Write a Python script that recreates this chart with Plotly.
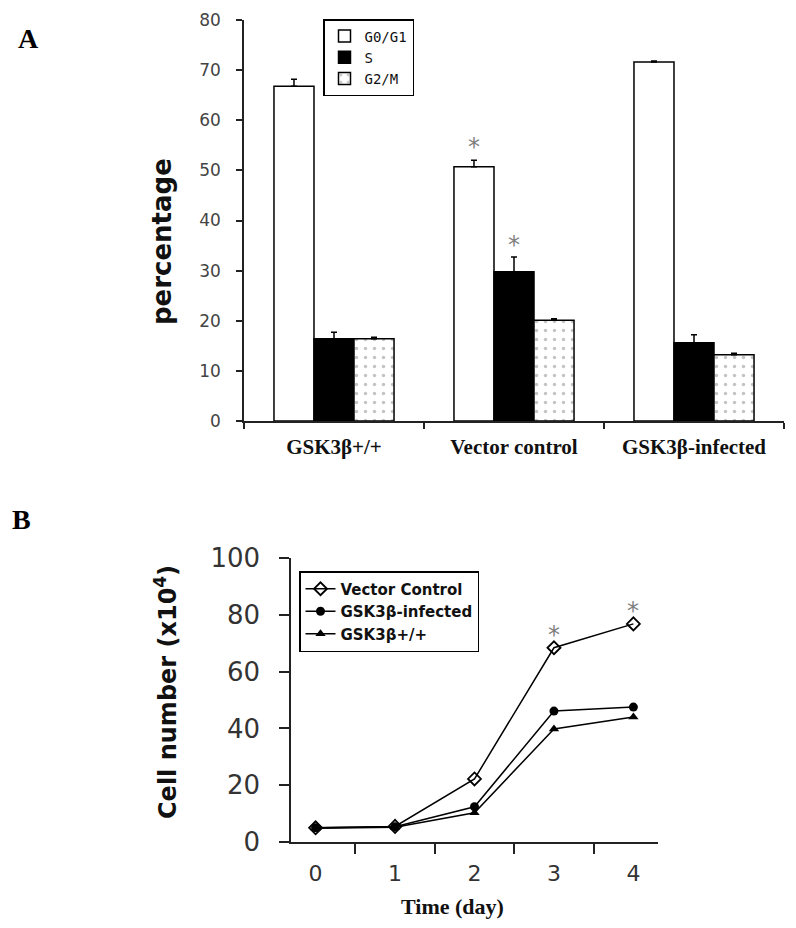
import plotly.graph_objects as go

# page body has an 8px margin, so the figure is drawn 8px in from the window edge
FW, FH = 780, 912
OFF = 8

# ---------- Panel A data ----------
groups = ["GSK3β+/+", "Vector control", "GSK3β-infected"]
phase_names = ["G0/G1", "S", "G2/M"]
g0g1 = [66.8, 50.7, 71.6]
g0g1_err = [1.4, 1.3, 0.2]
s_phase = [16.4, 29.8, 15.6]
s_err = [1.3, 2.9, 1.6]
g2m = [16.4, 20.1, 13.2]
g2m_err = [0.3, 0.3, 0.3]
a_ticks = [0, 10, 20, 30, 40, 50, 60, 70, 80]
a_star_y = [55.9, 36.4]   # G0/G1 and S of Vector control

# ---------- Panel B data ----------
days = ["0", "1", "2", "3", "4"]
vector_ctrl = [5.0, 5.5, 22.2, 68.4, 76.8]
gsk_infected = [5.0, 5.4, 12.4, 46.1, 47.5]
gsk_wt = [4.8, 5.2, 10.3, 39.8, 44.0]
b_ticks = [0, 20, 40, 60, 80, 100]
b_star_days = ["3", "4"]
b_star_y = [75.0, 83.5]


def FX(p):
    return (p - OFF) / FW


def FY(p):
    return 1 - (p - OFF) / FH


fig = go.Figure()

bar_line = dict(color="black", width=1.5)
err_style = dict(type="data", symmetric=False, color="black", thickness=1.5, width=3)

fig.add_trace(go.Bar(
    x=groups, y=g0g1, name=phase_names[0],
    marker=dict(color="white", line=bar_line),
    error_y=dict(array=g0g1_err, arrayminus=[0] * 3, **err_style),
    xaxis="x", yaxis="y", legend="legend"))
fig.add_trace(go.Bar(
    x=groups, y=s_phase, name=phase_names[1],
    marker=dict(color="black", line=bar_line),
    error_y=dict(array=s_err, arrayminus=[0] * 3, **err_style),
    xaxis="x", yaxis="y", legend="legend"))
fig.add_trace(go.Bar(
    x=groups, y=g2m, name=phase_names[2],
    marker=dict(color="white", line=bar_line,
                pattern=dict(shape=".", fgcolor="#8a8a8a", bgcolor="white",
                             size=9, solidity=0.12)),
    error_y=dict(array=g2m_err, arrayminus=[0] * 3, **err_style),
    xaxis="x", yaxis="y", legend="legend"))

# ---------- Panel B traces ----------
line_style = dict(color="black", width=1.5)
fig.add_trace(go.Scatter(
    x=days, y=vector_ctrl, name="Vector Control", mode="lines+markers",
    line=line_style,
    marker=dict(symbol="diamond-open", size=10, color="black", line=dict(width=1.8)),
    xaxis="x2", yaxis="y2", legend="legend2"))
fig.add_trace(go.Scatter(
    x=days, y=gsk_infected, name="GSK3β-infected", mode="lines+markers",
    line=line_style,
    marker=dict(symbol="circle", size=9, color="black"),
    xaxis="x2", yaxis="y2", legend="legend2"))
fig.add_trace(go.Scatter(
    x=days, y=gsk_wt, name="GSK3β+/+", mode="lines+markers",
    line=line_style,
    marker=dict(symbol="triangle-up", size=9, color="black"),
    xaxis="x2", yaxis="y2", legend="legend2"))

annotations = []
star_font = dict(family="DejaVu Sans", size=24, color="#808080")
for shift, yv in zip([-40, 0], a_star_y):
    annotations.append(dict(
        x="Vector control", y=yv, xref="x", yref="y", xshift=shift, yshift=-6,
        text="*", showarrow=False, yanchor="middle", font=star_font))
for d, yv in zip(b_star_days, b_star_y):
    annotations.append(dict(
        x=d, y=yv, xref="x2", yref="y2", yshift=-6,
        text="*", showarrow=False, yanchor="middle", font=star_font))

# panel letters
annotations.append(dict(x=FX(28), y=FY(38), xref="paper", yref="paper",
                        text="<b>A</b>", showarrow=False, xanchor="center", yanchor="middle",
                        font=dict(family="Liberation Serif", size=28, color="black")))
annotations.append(dict(x=FX(21), y=FY(519), xref="paper", yref="paper",
                        text="<b>B</b>", showarrow=False, xanchor="center", yanchor="middle",
                        font=dict(family="Liberation Serif", size=28, color="black")))
# axis titles
annotations.append(dict(x=FX(162), y=FY(242), xref="paper", yref="paper",
                        text="<b>percentage</b>", showarrow=False, textangle=-90,
                        xanchor="center", yanchor="middle",
                        font=dict(family="DejaVu Sans", size=26, color="#111")))
annotations.append(dict(x=FX(166), y=FY(692), xref="paper", yref="paper",
                        text="<b>Cell number (x10<sup>4</sup>)</b>", showarrow=False, textangle=-90,
                        xanchor="center", yanchor="middle",
                        font=dict(family="DejaVu Sans", size=24, color="#111")))
annotations.append(dict(x=FX(452), y=FY(906), xref="paper", yref="paper",
                        text="<b>Time (day)</b>", showarrow=False,
                        xanchor="center", yanchor="middle",
                        font=dict(family="Liberation Serif", size=22, color="#111")))

axis_common = dict(showline=True, linecolor="#222", linewidth=1.5,
                   ticks="outside", tickcolor="#222", tickwidth=1.5,
                   showgrid=False, zeroline=False, automargin=False)

fig.update_layout(
    width=FW, height=FH,
    margin=dict(l=0, r=0, t=0, b=0, autoexpand=False),
    paper_bgcolor="white", plot_bgcolor="white",
    barmode="group", bargap=0.333, bargroupgap=0,
    annotations=annotations,
    xaxis=dict(domain=[FX(244), FX(784)], anchor="y",
               tickson="boundaries", ticklen=6, ticklabelstandoff=6,
               tickfont=dict(family="Liberation Serif", size=21, color="#111", weight="bold"),
               tickangle=0, **axis_common),
    yaxis=dict(domain=[FY(421), FY(20)], anchor="x", range=[0, 80],
               tickvals=a_ticks, ticklen=6, ticklabelstandoff=12,
               tickfont=dict(family="DejaVu Sans", size=17, color="#444"),
               **axis_common),
    xaxis2=dict(domain=[FX(291), FX(658)], anchor="y2", type="category",
                tickson="boundaries", ticklen=10, ticklabelstandoff=11,
                tickfont=dict(family="DejaVu Sans", size=22, color="#333"),
                **axis_common),
    yaxis2=dict(domain=[FY(842), FY(558)], anchor="x2", range=[0, 100],
                tickvals=b_ticks, ticklen=10, ticklabelstandoff=14,
                tickfont=dict(family="DejaVu Sans", size=26, color="#333"),
                **axis_common),
    legend=dict(x=FX(323), y=FY(19), xanchor="left", yanchor="top",
                bordercolor="black", borderwidth=1.5, bgcolor="white",
                font=dict(family="DejaVu Sans Mono", size=14, color="#111"),
                tracegroupgap=0, itemwidth=30, traceorder="normal"),
    legend2=dict(x=FX(299), y=FY(571), xanchor="left", yanchor="top",
                 bordercolor="black", borderwidth=1.5, bgcolor="white",
                 font=dict(family="DejaVu Sans", size=15, color="#111", weight="bold"),
                 tracegroupgap=0, itemwidth=30, traceorder="normal"),
    showlegend=True,
)

fig.write_html("out.html")
